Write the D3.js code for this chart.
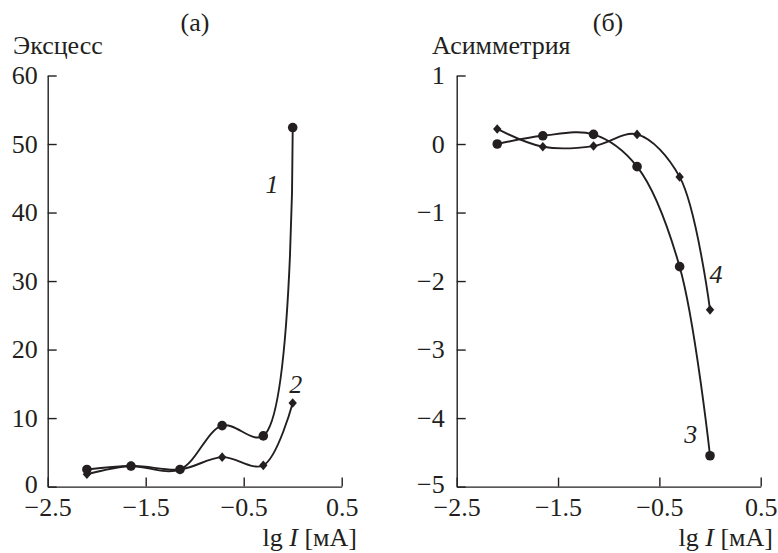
<!DOCTYPE html>
<html>
<head>
<meta charset="utf-8">
<script src="https://cdn.jsdelivr.net/npm/d3@7"></script>
<style>
  body { margin: 0; background: #fff; }
  svg text { font-family: "Liberation Serif", "Times New Roman", serif; fill: #231f20; }
</style>
</head>
<body>
<svg id="chart" width="778" height="553"></svg>
<script>
// lg I values (same for all curves)
const lgI = [ -2.1, -1.65, -1.15, -0.72, -0.3, 0.0 ];

// (а) Эксцесс
const kurt1 = [ 2.5, 3.0, 2.5, 8.9, 7.4, 52.4 ];
const kurt2 = [ 1.8, 3.0, 2.5, 4.3, 3.1, 12.2 ];

// (б) Асимметрия
const skew3 = [ 0.0, 0.12, 0.14, -0.33, -1.79, -4.55 ];
const skew4 = [ 0.22, -0.04, -0.03, 0.14, -0.48, -2.42 ];

const x_ticks = [ -2.5, -1.5, -0.5, 0.5 ];
const kurt_ticks = [ 0, 10, 20, 30, 40, 50, 60 ];
const skew_ticks = [ -5, -4, -3, -2, -1, 0, 1 ];

const INK = '#231f20';
const FONT = 26;
const fmt = d => ( d < 0 ? '\u2212' : '' ) + Math.abs( d );

const svg = d3.select( '#chart' );

// Draws one panel with its axes, curves and labels.
function render_panel( opt ){
  const x = d3.scaleLinear().domain( [ -2.5, 0.5 ] ).range( opt.x_range );
  const y = d3.scaleLinear().domain( opt.y_domain ).range( [ 486.6, 75.5 ] );
  const g = svg.append( 'g' );

  // x axis, ticks pointing inward
  const gx = g.append( 'g' )
    .attr( 'transform', 'translate(0,' + y( opt.y_domain[0] ) + ')' )
    .call( d3.axisBottom( x ).tickValues( x_ticks ).tickFormat( fmt )
      .tickSizeInner( -9 ).tickSizeOuter( 0 ).tickPadding( 11 ) );

  // y axis
  const gy = g.append( 'g' )
    .attr( 'transform', 'translate(' + x( -2.5 ) + ',0)' )
    .call( d3.axisLeft( y ).tickValues( opt.y_ticks ).tickFormat( fmt )
      .tickSizeInner( -9 ).tickSizeOuter( 0 ).tickPadding( opt.y_pad ) );

  // lowest y label sits a little higher, clear of the x labels
  gy.selectAll( '.tick text' ).filter( d => d == opt.y_domain[0] ).attr( 'dy', '0.22em' );

  [ gx, gy ].forEach( a => {
    a.attr( 'font-family', null ).attr( 'font-size', FONT );
    a.selectAll( 'path, line' ).attr( 'stroke', INK ).attr( 'stroke-width', 1.4 );
    a.selectAll( 'text' ).attr( 'fill', INK );
  });

  const line = d3.line()
    .x( d => x( d[0] ) )
    .y( d => y( d[1] ) )
    .curve( d3.curveCatmullRom.alpha( 0.5 ) );

  opt.series.forEach( s => {
    const pts = lgI.map( ( v, i ) => [ v, s.values[i] ] );
    g.append( 'path' )
      .datum( pts )
      .attr( 'd', line )
      .attr( 'fill', 'none' )
      .attr( 'stroke', INK )
      .attr( 'stroke-width', 1.9 );

    if( s.marker == 'circle' ){
      g.selectAll( null ).data( pts ).enter().append( 'circle' )
        .attr( 'cx', d => x( d[0] ) )
        .attr( 'cy', d => y( d[1] ) )
        .attr( 'r', 4.8 )
        .attr( 'fill', INK );
    } else {
      g.selectAll( null ).data( pts ).enter().append( 'path' )
        .attr( 'transform', d => 'translate(' + x( d[0] ) + ',' + y( d[1] ) + ')' )
        .attr( 'd', 'M0,-4.8L4.2,0L0,4.8L-4.2,0Z' )
        .attr( 'fill', INK );
    }

    g.append( 'text' )
      .attr( 'x', x( s.label_at[0] ) )
      .attr( 'y', y( s.label_at[1] ) )
      .attr( 'text-anchor', 'middle' )
      .attr( 'font-size', FONT )
      .attr( 'font-style', 'italic' )
      .text( s.label );
  });

  // panel letter
  g.append( 'text' )
    .attr( 'x', opt.title_x ).attr( 'y', 31 )
    .attr( 'text-anchor', 'middle' )
    .attr( 'font-size', FONT )
    .text( opt.title );

  // y axis title
  g.append( 'text' )
    .attr( 'x', opt.y_title_x ).attr( 'y', 54 )
    .attr( 'font-size', FONT )
    .text( opt.y_title );

  // x axis title
  const xt = g.append( 'text' )
    .attr( 'x', opt.x_title_end ).attr( 'y', 546 )
    .attr( 'text-anchor', 'end' )
    .attr( 'font-size', FONT );
  xt.append( 'tspan' ).text( 'lg ' );
  xt.append( 'tspan' ).attr( 'font-style', 'italic' ).text( 'I' );
  xt.append( 'tspan' ).text( ' [мА]' );
}

render_panel({
  x_range: [ 47.7, 341.7 ],
  y_domain: [ 0, 60 ],
  y_ticks: kurt_ticks,
  y_pad: 10,
  title: '(а)', title_x: 195,
  y_title: 'Эксцесс', y_title_x: 13,
  x_title_end: 357,
  series: [
    { values: kurt1, marker: 'circle', label: '1', label_at: [ -0.21, 42.9 ] },
    { values: kurt2, marker: 'diamond', label: '2', label_at: [ 0.03, 13.7 ] }
  ]
});

render_panel({
  x_range: [ 456.7, 760.7 ],
  y_domain: [ -5, 1 ],
  y_ticks: skew_ticks,
  y_pad: 12,
  title: '(б)', title_x: 608,
  y_title: 'Асимметрия', y_title_x: 432,
  x_title_end: 773,
  series: [
    { values: skew3, marker: 'circle', label: '3', label_at: [ -0.19, -4.37 ] },
    { values: skew4, marker: 'diamond', label: '4', label_at: [ 0.06, -2.03 ] }
  ]
});
</script>
</body>
</html>
